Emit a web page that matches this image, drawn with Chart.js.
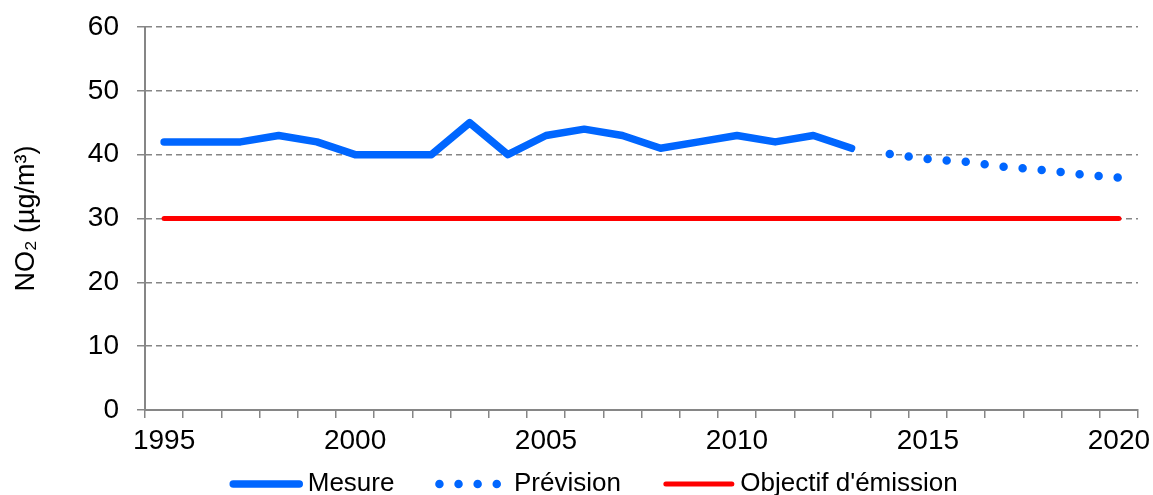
<!DOCTYPE html>
<html>
<head>
<meta charset="utf-8">
<script src="https://cdn.jsdelivr.net/npm/chart.js@4.4.1/dist/chart.umd.min.js"></script>
<style>
html,body{margin:0;padding:0;background:#fff;}
#wrap{width:1153px;height:495px;position:relative;}
</style>
</head>
<body>
<div id="wrap"><canvas id="c"></canvas></div>
<script>
// ---- data ----
const years = ['1995','1996','1997','1998','1999','2000','2001','2002','2003','2004','2005','2006','2007','2008','2009','2010','2011','2012','2013','2014','2015','2016','2017','2018','2019','2020'];
const mesure = [42,42,42,43,42,40,40,40,45,40,43,44,43,41,42,43,42,43,41,null,null,null,null,null,null,null];
const prevision = [null,null,null,null,null,null,null,null,null,null,null,null,null,null,null,null,null,null,null,40.1,39.3,38.9,38.1,37.6,36.9,36.4];
const objectif = [30,30,30,30,30,30,30,30,30,30,30,30,30,30,30,30,30,30,30,30,30,30,30,30,30,30];
const xTickLabels = ['1995','2000','2005','2010','2015','2020'];
const yTicks = [0,10,20,30,40,50,60];
const seriesNames = ['Mesure','Prévision',"Objectif d'émission"];
const yTitle = 'NO\u2082 (\u00B5g/m\u00B3)';

const FONT = '"Liberation Sans", Arial, Helvetica, sans-serif';
const AXIS = '#868686';

const legendPlugin = {
  id: 'bottomLegend',
  afterDraw(chart) {
    const ctx = chart.ctx;
    const sample = 66, gap = 8.5, spacing = 45;
    ctx.save();
    ctx.font = '26px ' + FONT;
    ctx.textBaseline = 'middle';
    ctx.textAlign = 'left';
    const items = chart.data.datasets.map(ds => ({
      text: ds.label, color: ds.borderColor, width: ds.borderWidth,
      dash: ds.borderDash || [], tw: ctx.measureText(ds.label).width
    }));
    let total = 0;
    items.forEach((it, i) => { total += sample + gap + it.tw + (i ? spacing : 0); });
    let x = chart.width / 2 + 19 - total / 2;
    const y = chart.height - 11;
    items.forEach(it => {
      ctx.beginPath();
      ctx.strokeStyle = it.color;
      ctx.lineWidth = it.width;
      ctx.lineCap = 'round';
      ctx.setLineDash(it.dash);
      ctx.moveTo(x, y);
      ctx.lineTo(x + sample, y);
      ctx.stroke();
      ctx.setLineDash([]);
      ctx.fillStyle = '#000';
      ctx.fillText(it.text, x + sample + gap, y - 0.5);
      x += sample + gap + it.tw + spacing;
    });
    ctx.restore();
  }
};

new Chart(document.getElementById('c'), {
  type: 'line',
  data: {
    labels: years,
    datasets: [
      { label: seriesNames[0], data: mesure, borderColor: '#0066FF', backgroundColor: '#0066FF',
        borderWidth: 7.5, borderCapStyle: 'round', borderJoinStyle: 'round', pointRadius: 0, tension: 0, spanGaps: false },
      { label: seriesNames[1], data: prevision, borderColor: '#0066FF', backgroundColor: '#0066FF',
        borderWidth: 8.5, borderCapStyle: 'round', borderDash: [0, 19.1], pointRadius: 0, tension: 0 },
      { label: seriesNames[2], data: objectif, borderColor: '#FF0000', backgroundColor: '#FF0000',
        borderWidth: 5, borderCapStyle: 'round', pointRadius: 0, tension: 0 }
    ]
  },
  options: {
    responsive: true,
    maintainAspectRatio: false,
    animation: false,
    events: [],
    layout: { padding: { top: 27, right: 15, bottom: 39, left: 0 } },
    plugins: { legend: { display: false }, tooltip: { enabled: false } },
    scales: {
      x: {
        type: 'category',
        offset: true,
        grid: { offset: true, drawOnChartArea: false, drawTicks: true, tickLength: 8, color: AXIS, lineWidth: 1.5 },
        border: { display: true, color: AXIS, width: 2 },
        ticks: {
          autoSkip: false, maxRotation: 0, minRotation: 0, padding: 6,
          color: '#000', font: { family: FONT, size: 28 },
          callback: function(v, i) { const l = years[i]; return xTickLabels.includes(l) ? l : ''; }
        },
        afterFit: s => { s.height = 46; s.paddingLeft = 0; s.paddingRight = 0; }
      },
      y: {
        min: 0, max: 60,
        afterBuildTicks: s => { s.ticks = yTicks.map(v => ({ value: v })); },
        grid: { color: AXIS, lineWidth: 1.5, tickBorderDash: [], tickLength: 8, drawTicks: true },
        border: { display: true, color: AXIS, width: 2, dash: [6, 4] },
        ticks: { padding: 18, color: '#000', font: { family: FONT, size: 28 } },
        title: { display: true, text: yTitle, color: '#000', font: { family: FONT, size: 27 }, padding: { top: 10, bottom: 0 } },
        afterFit: s => { s.width = 145; s.paddingTop = 0; s.paddingBottom = 0; }
      }
    }
  },
  plugins: [legendPlugin]
});
</script>
</body>
</html>
